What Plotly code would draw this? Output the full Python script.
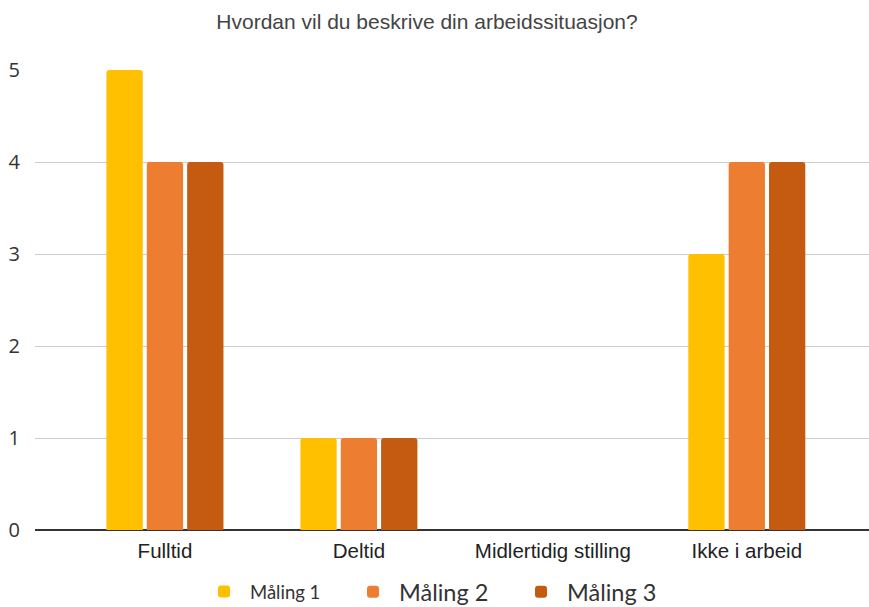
import plotly.graph_objects as go

categories = ["Fulltid", "Deltid", "Midlertidig stilling", "Ikke i arbeid"]
series_names = ["Måling 1", "Måling 2", "Måling 3"]
maling1 = [5, 1, 0, 3]
maling2 = [4, 1, 0, 4]
maling3 = [4, 1, 0, 4]
colors = ["#FFC000", "#ED7D31", "#C55A11"]
y_ticks = [0, 1, 2, 3, 4, 5]

W, H = 869, 607
L, R, T, B = 35, 0, 70, 77

fig = go.Figure()
legend_ids = ["legend", "legend2", "legend3"]
for name, vals, col, lg in zip(series_names, [maling1, maling2, maling3], colors, legend_ids):
    fig.add_trace(go.Bar(x=categories, y=vals, name=name, marker=dict(color=col, line=dict(width=0)),
                         legend=lg, showlegend=True))

def px_x(p):
    return (p - L) / (W - L - R)

plot_h = H - T - B
leg_y = -(592 - (H - B)) / plot_h

common_leg = dict(yanchor="middle", xanchor="left", orientation="h", itemwidth=42,
                  bgcolor="rgba(0,0,0,0)")

fig.update_layout(
    width=W, height=H,
    margin=dict(l=L, r=R, t=T, b=B, autoexpand=False),
    paper_bgcolor="white", plot_bgcolor="white",
    showlegend=True,
    barmode="group", bargap=0.376, bargroupgap=0.1, barcornerradius=3,
    title=dict(text="Hvordan vil du beskrive din arbeidssituasjon?",
               font=dict(family="Liberation Sans, Arial", size=21, color="#444444"),
               x=427 / W, xanchor="center", y=1 - 22 / H, yanchor="middle"),
    xaxis=dict(type="category", range=[-0.67, 3.63], showgrid=False, showline=False,
               zeroline=False, ticks="", ticklabelstandoff=6,
               tickfont=dict(family="Liberation Sans, Arial", size=20.5, color="#222222")),
    yaxis=dict(range=[0, 5], tickvals=y_ticks, showgrid=True, gridcolor="#cccccc", gridwidth=1,
               zeroline=True, zerolinecolor="#333333", zerolinewidth=2, showline=False,
               ticks="", ticklabelstandoff=14,
               tickfont=dict(family="Open Sans, Arial", size=20, color="#333333")),
    legend=dict(x=px_x(198), y=leg_y, font=dict(family="Lato, Open Sans", size=18.5, color="#333333"),
                **common_leg),
    legend2=dict(x=px_x(347), y=leg_y, font=dict(family="Lato, Open Sans", size=23.5, color="#333333"),
                 **common_leg),
    legend3=dict(x=px_x(515), y=leg_y, font=dict(family="Lato, Open Sans", size=23.5, color="#333333"),
                 **common_leg),
)

fig.write_html("out.html")
